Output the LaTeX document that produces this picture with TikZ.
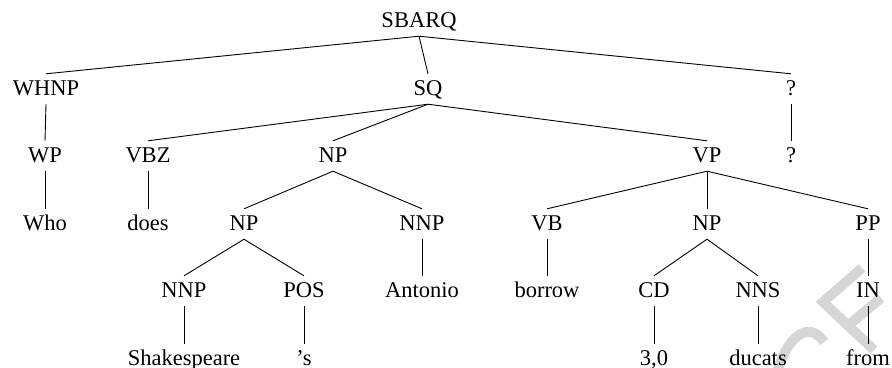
\documentclass[tikz,border=0pt]{standalone}
\usepackage{fontspec}
\setmainfont{Liberation Serif}
\begin{document}
\begin{tikzpicture}[x=1pt,y=-1pt,
  lbl/.style={inner xsep=0pt, inner ysep=4pt, text height=17pt, text depth=5pt,
    anchor=base, font=\fontsize{22.5pt}{26pt}\selectfont},
  edge/.style={line width=0.9pt, black},
  stampstroke/.style={line width=10pt, color=black!16}]
\useasboundingbox (0,0) rectangle (892,367);

% light grey stamp in the lower right corner
\draw[stampstroke] (778,370) .. controls (786,340) and (808,318) .. (824,342);
\draw[stampstroke] (862,268) -- (823,302) -- (874,350);
\draw[stampstroke] (850,324) -- (881,298);

% level 0
\node[lbl] (sbarq) at (419,27) {SBARQ};
% level 1
\node[lbl] (whnp) at (46,95) {WHNP};
\node[lbl] (sq) at (428,95) {SQ};
\node[lbl] (q1) at (791,95) {?};
% level 2
\node[lbl] (wp) at (45,162) {WP};
\node[lbl] (vbz) at (148,162) {VBZ};
\node[lbl] (npa) at (333,162) {NP};
\node[lbl] (vp) at (707,162) {VP};
\node[lbl] (q2) at (791,162) {?};
% level 3
\node[lbl] (who) at (45,230) {Who};
\node[lbl] (does) at (148,230) {does};
\node[lbl] (npb) at (244,230) {NP};
\node[lbl] (nnpa) at (422,230) {NNP};
\node[lbl] (vb) at (547,230) {VB};
\node[lbl] (npc) at (707,230) {NP};
\node[lbl] (pp) at (868,230) {PP};
% level 4
\node[lbl] (nnpb) at (184,297) {NNP};
\node[lbl] (pos) at (304,297) {POS};
\node[lbl] (antonio) at (422,297) {Antonio};
\node[lbl] (borrow) at (547,297) {borrow};
\node[lbl] (cd) at (654,297) {CD};
\node[lbl] (nns) at (758,297) {NNS};
\node[lbl] (in) at (868,297) {IN};
% level 5
\node[lbl] (shak) at (184,365) {Shakespeare};
\node[lbl] (poss) at (304,365) {’s};
\node[lbl] (num) at (654,365) {3,0};
\node[lbl] (ducats) at (758,365) {ducats};
\node[lbl] (from) at (868,365) {from};

% branches
\foreach \p/\c in {sbarq/whnp, sbarq/sq, sbarq/q1,
                   whnp/wp, sq/vbz, sq/npa, sq/vp, q1/q2,
                   wp/who, vbz/does, npa/npb, npa/nnpa, vp/vb, vp/npc, vp/pp,
                   npb/nnpb, npb/pos, nnpa/antonio, vb/borrow, npc/cd, npc/nns, pp/in,
                   nnpb/shak, pos/poss, cd/num, nns/ducats, in/from}
  \draw[edge] (\p.south) -- (\c.north);
\end{tikzpicture}
\end{document}
